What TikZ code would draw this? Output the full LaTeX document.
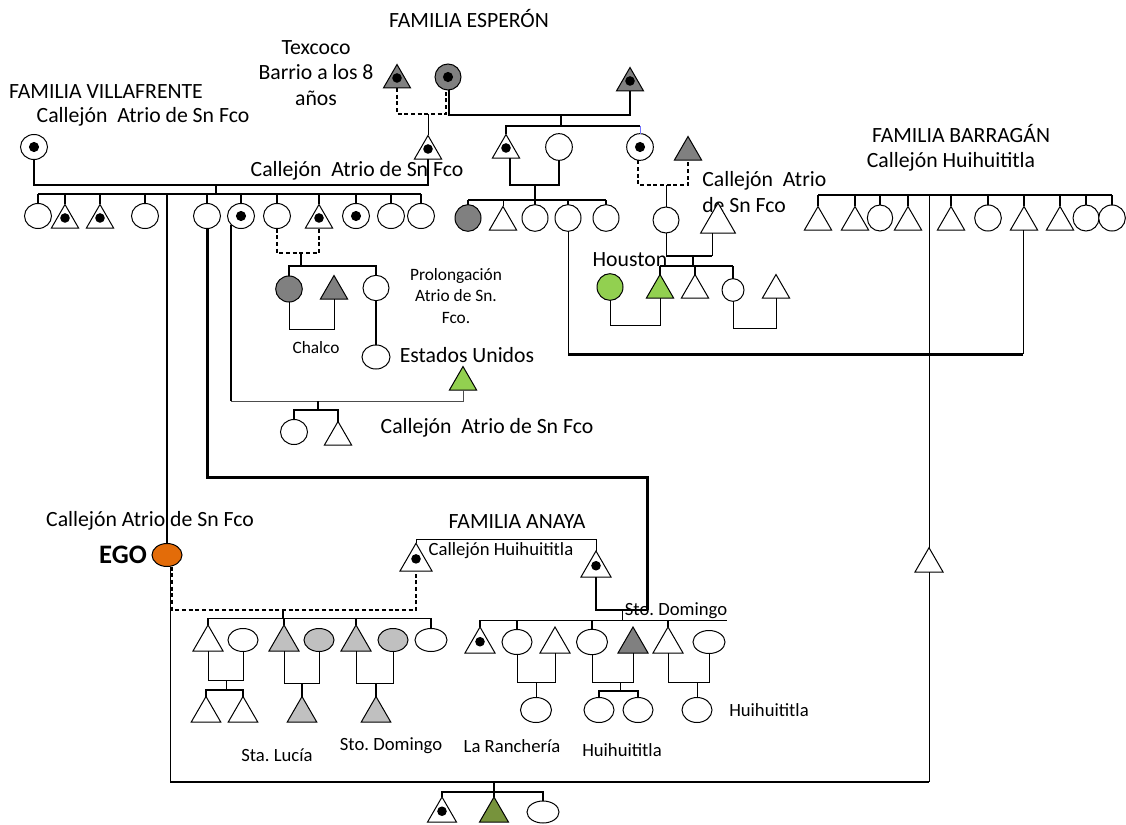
\documentclass[tikz,border=0pt]{standalone}
\usepackage{fontspec}
\setmainfont{Carlito}
\usetikzlibrary{shapes.geometric}
\definecolor{dgrey}{HTML}{808080}
\definecolor{lgrey}{HTML}{C0C0C0}
\definecolor{lgreen}{HTML}{92D050}
\definecolor{oliveg}{HTML}{77933C}
\definecolor{egoor}{HTML}{E36C09}
\frenchspacing
\tikzset{
  sh/.style={draw=black, line width=0.75pt, fill=white, inner sep=0pt, outer sep=0pt},
  ell/.style 2 args={sh, ellipse, minimum width=#1, minimum height=#2},
  cir/.style={sh, ellipse, minimum width=20.25pt, minimum height=18.75pt},
  tri/.style={sh, regular polygon, regular polygon sides=3, minimum size=#1},
  tri/.default=23.5pt,
  dotc/.style={path picture={\fill[black] (path picture bounding box.center) circle (3.8pt);}},
  dott/.style={path picture={\fill[black] ([yshift=-1.3pt]path picture bounding box.center) circle (3.6pt);}},
  lab/.style={font=\fontsize{16.3}{19.2}\selectfont, inner sep=0pt},
  mlab/.style={font=\fontsize{14}{16}\selectfont, inner sep=0pt},
  slab/.style={font=\fontsize{13}{15.8}\selectfont, inner sep=0pt},
  l1/.style={line width=0.75pt},
  l13/.style={line width=1pt},
  l15/.style={line width=1.15pt},
  l2/.style={line width=1.5pt},
  l3/.style={line width=2.25pt},
  dsh/.style={line width=0.9pt, dash pattern=on 3pt off 2pt},
}
\begin{document}
\begin{tikzpicture}[x=0.75pt, y=-0.75pt]
\useasboundingbox (0,0) rectangle (1126,824);

% level coordinates
\foreach \v in {114,115,126,185,194,195,200,253,256,266,325,328,329,354,401,410,477,539,610,618,620,680,682,683,690,691,782,792}
  {\coordinate (L\v) at (0,\v);}

% ---------------- texts
\node[lab] (tEsp) at (469,19) {FAMILIA ESPERÓN};
\node[lab, align=center] (tTex) at (316,73) {Texcoco\\Barrio a los 8\\años};
\node[lab] (tVil) at (106,92) {FAMILIA VILLAFRENTE};
\node[lab] (tVilC) at (143,117) {Callejón\ \ Atrio de Sn Fco};
\node[lab] (tMid) at (357,171) {Callejón\ \ Atrio de Sn Fco};
\node[lab, align=left, anchor=west] (tHouC) at (702,192) {Callejón\ \ Atrio\\de Sn Fco};
\node[lab] (tBarr) at (961,133) {FAMILIA BARRAGÁN};
\node[lab] (tBarrC) at (951,162) {Callejón Huihuititla};
\node[lab] (tHou) at (630,260) {Houston};
\node[slab, align=center] (tProl) at (456,296) {Prolongación\\Atrio de Sn.\\Fco.};
\node[slab] (tChal) at (316,348) {Chalco};
\node[lab] (tEU) at (467,355) {Estados Unidos};
\node[lab] (tCall2) at (487,428) {Callejón\ \ Atrio de Sn Fco};
\node[lab] (tEgoC) at (150,521) {Callejón Atrio de Sn Fco};
\node[font=\bfseries\fontsize{20}{24}\selectfont, inner sep=0pt] (tEGO) at (123,555) {EGO};
\node[lab] (tAnaya) at (517,522) {FAMILIA ANAYA};
\node[mlab] (tAnC) at (501,551) {Callejón Huihuititla};
\node[mlab] (tSto) at (676,611) {Sto. Domingo};
\node[mlab] (tLucia) at (277,755) {Sta. Lucía};
\node[mlab] (tSto2) at (391,746) {Sto. Domingo};
\node[mlab] (tRanch) at (512,746) {La Ranchería};
\node[mlab] (tHui1) at (622,750) {Huihuititla};
\node[mlab] (tHui2) at (769,710) {Huihuititla};

% ---------------- Villafrente
\node[cir, dotc] (vA) at (34,147) {};
\node[cir] (v1) at (38,216) {};
\node[tri, dott, anchor=south] (v2) at (65,228) {};
\node[tri, dott, anchor=south] (v3) at (100,228) {};
\node[cir] (v4) at (145,216) {};
\node[cir] (v5) at (207,216) {};
\node[cir, dotc] (v6) at (241,216) {};
\node[cir] (v7) at (277,216) {};
\node[tri, dott, anchor=south] (v8) at (319,228) {};
\node[cir, dotc] (v9) at (356,216) {};
\node[cir] (v10) at (391,216) {};
\node[cir] (v11) at (421,216) {};

% ---------------- Esperon
\node[tri, dott, fill=dgrey, anchor=south] (eA) at (397,88) {};
\node[ell={19.5pt}{19.5pt}, fill=dgrey, dotc] (eB) at (448,77) {};
\node[tri, dott, fill=dgrey, anchor=south] (eC) at (630,91) {};
\node[tri, dott, anchor=south] (eS) at (428,159) {};
\node[tri, dott, anchor=south] (e1) at (506,158) {};
\node[ell={20pt}{20pt}] (e2) at (559,147) {};
\node[ell={20pt}{20pt}, dotc] (e3) at (640,147) {};
\node[tri, fill=dgrey, anchor=south] (e4) at (688,160) {};

\node[ell={19.5pt}{20pt}, fill=dgrey] (g1) at (468,218) {};
\node[tri, anchor=south] (g2) at (503,230) {};
\node[ell={19.5pt}{20pt}] (g3) at (535,218) {};
\node[ell={19.5pt}{20pt}] (g4) at (568,218) {};
\node[ell={19.5pt}{20pt}] (g5) at (606,218) {};
\node[ell={19.5pt}{19.5pt}] (h0) at (666,220) {};
\node[tri=30pt, anchor=south] (hT) at (718,233) {};

\node[ell={19.5pt}{20pt}, fill=lgreen] (hc) at (610,287) {};
\node[tri, fill=lgreen, anchor=south] (ht) at (660,298) {};
\node[tri, anchor=south] (hw) at (695,298) {};
\node[ell={16.5pt}{17pt}] (hq) at (733,290) {};
\node[tri, anchor=south] (hr) at (776,298) {};

% ---------------- Chalco / Estados Unidos
\node[ell={20pt}{19.5pt}, fill=dgrey] (c1) at (289,289) {};
\node[tri, fill=dgrey, anchor=south] (c2) at (334,299) {};
\node[ell={19.5pt}{19pt}] (c3) at (376,288) {};
\node[ell={21pt}{18pt}] (c4) at (376,357) {};
\node[tri, fill=lgreen, anchor=south] (us) at (463,390) {};
\node[cir] (k1) at (294,432) {};
\node[tri, anchor=south] (k2) at (338,445) {};

% ---------------- Barragan
\node[tri, anchor=south] (b1) at (818,230) {};
\node[tri, anchor=south] (b2) at (855,230) {};
\node[ell={19pt}{19.5pt}] (b3) at (880,218) {};
\node[tri, anchor=south] (b4) at (908,230) {};
\node[tri, anchor=south] (b5) at (951,230) {};
\node[ell={20pt}{19.5pt}] (b6) at (988,218) {};
\node[tri, anchor=south] (b7) at (1024,230) {};
\node[tri, anchor=south] (b8) at (1060,230) {};
\node[ell={19.5pt}{19.5pt}] (b9) at (1086,218) {};
\node[ell={20pt}{19.5pt}] (b10) at (1112,218) {};
\node[tri=24.3pt, anchor=south] (bR) at (929,572) {};

% ---------------- EGO and Anaya
\node[ell={22.5pt}{17.25pt}, fill=egoor] (ego) at (167,555) {};
\node[tri=27.7pt, dott, anchor=south] (aL) at (416,571) {};
\node[tri=26pt, dott, anchor=south] (aR) at (596,577) {};

\node[tri=26pt, anchor=south] (x1) at (208,651) {};
\node[ell={22.5pt}{17.25pt}] (x2) at (243,640) {};
\node[tri=26pt, fill=lgrey, anchor=south] (x3) at (284,651) {};
\node[ell={22.5pt}{17.25pt}, fill=lgrey] (x4) at (319,640) {};
\node[tri=26pt, fill=lgrey, anchor=south] (x5) at (356,651) {};
\node[ell={22.5pt}{17.25pt}, fill=lgrey] (x6) at (393,640) {};
\node[ell={24pt}{17.25pt}] (x7) at (431,640) {};

\node[tri=26pt, dott, anchor=south] (n1) at (480,653) {};
\node[ell={22.5pt}{18.75pt}] (n2) at (517,642) {};
\node[tri=26pt, anchor=south] (n3) at (555,653) {};
\node[ell={23.25pt}{19pt}] (n4) at (592,642) {};
\node[tri=26pt, fill=dgrey, anchor=south] (n5) at (633,653) {};
\node[tri=26pt, anchor=south] (n6) at (668,653) {};
\node[ell={24pt}{17.25pt}] (n7) at (709,642) {};

\node[tri=25.5pt, anchor=south] (y1) at (206,722) {};
\node[tri=25.5pt, anchor=south] (y2) at (243,722) {};
\node[tri=25.5pt, fill=lgrey, anchor=south] (y3) at (302,722) {};
\node[tri=25.5pt, fill=lgrey, anchor=south] (y4) at (376,722) {};
\node[ell={23.25pt}{18.75pt}] (z1) at (536,710) {};
\node[ell={22.5pt}{18.75pt}] (z2) at (599,710) {};
\node[ell={22.5pt}{18.75pt}] (z3) at (638,710) {};
\node[ell={22.5pt}{18.75pt}] (z4) at (697,710) {};

\node[tri=25pt, dott, anchor=south] (f1) at (442,822) {};
\node[tri=25pt, fill=oliveg, anchor=south] (f2) at (494,822) {};
\node[ell={24pt}{16.5pt}] (f3) at (543,812) {};

% ================= connectors
% Villafrente
\draw[l2] (vA.south) -- (vA.south |- L185) -- (eS.south |- L185) -- (eS.south);
\coordinate (jV) at (216,185);
\draw[l2] (jV) -- (jV |- L194);
\draw[l13] (v1.north |- L194) -- (v11.north |- L194);
\foreach \n in {v1,v2,v3,v4,v5,v6,v7,v8,v9,v10,v11}
  {\draw[l15] (\n.north) -- (\n.north |- L194);}
\draw[l2] (ego.north) -- (ego.north |- L194);
% v5 to Anaya
\coordinate (aJ) at (647,610);
\draw[l3] (v5.south) -- (v5.south |- L477) -| (aJ);
\draw[l2] (aR.south) |- (aJ);
% v6 and Estados Unidos
\draw[l2] (v6.south west) -- (v6.south west |- L401);
\draw[l1, black!70] (v6.south west |- L401) -- (us.south |- L401) -- (us.south);
\coordinate (mK) at (318,401);
\draw[l15] (mK) -- (mK |- L410);
\draw[l15] (k1.north) |- (k2.north |- L410) -- (k2.north);
% v7 and v8
\draw[dsh] (v7.south) -- (v7.south |- L253) -| (v8.south);
\coordinate (mC) at (301,253);
\draw[l15] (mC) -- (mC |- L266);
\draw[l15] (c1.north) |- (c3.north |- L266) -- (c3.north);
\draw[l1] (c1.south) |- (c2.south |- L329) -- (c2.south);
\draw[l15] (c3.south) -- (c4.north);

% Esperon
\draw[dsh] (eA.south) -- (eA.south |- L114) -| ([xshift=-1.5pt]eB.south);
\draw[l2] ([xshift=1pt]eB.south) |- (eC.south |- L115) -- (eC.south);
\draw[l1] (eS.north |- L114) -- (eS.north);
\coordinate (mE) at (561,115);
\draw[l2] (mE) -- (mE |- L126);
\draw[l15] (e1.north) |- (e3.north |- L126);
\draw[l1, blue!55] (e3.north |- L126) -- (e3.north);
\draw[l15] ([xshift=3pt]e1.south) |- (e2.south |- L185) -- (e2.south);
\coordinate (mG) at (535,185);
\draw[l2] (mG) -- (mG |- L200);
\draw[l15] (g1.north |- L200) -- (g5.north |- L200);
\foreach \n in {g1,g3,g4,g5} {\draw[l15] (\n.north) -- (\n.north |- L200);}
\draw[l1] (g2.north) -- (g2.north |- L200);
\draw[l1] (g4.south) -- (g4.south |- L354);
\draw[l3] (g4.south |- L354) -- ([xshift=-0.75pt]b7.south |- L354);
\draw[l1] ([xshift=-0.75pt]b7.south) -- ([xshift=-0.75pt]b7.south |- L354);
% e3 and e4
\draw[dsh] ([xshift=-1.5pt]e3.south) -- ([xshift=-1.5pt]e3.south |- L185) -| (e4.south);
\draw[l1] (h0.north |- L185) -- (h0.north);
\draw[l1] (h0.south) -- (h0.south |- L256);
\draw[l1] ([xshift=-4.5pt]hT.south) -- ([xshift=-4.5pt]hT.south |- L256);
\draw[l2] (h0.south |- L256) -- ([xshift=-4.5pt]hT.south |- L256);
\coordinate (mH) at (693,256);
\draw[l2] (mH) -- (mH |- L266);
\draw[l2] (ht.north |- L266) -- (hq.north |- L266);
\foreach \n in {ht,hw,hq} {\draw[l2] (\n.north) -- (\n.north |- L266);}
\draw[l1] (hc.south) |- (ht.south |- L325) -- (ht.south);
\draw[l1] (hq.south) |- (hr.south |- L328) -- (hr.south);

% Barragan
\draw[l15] (b1.north |- L195) -- (b10.north |- L195);
\foreach \n in {b1,b2,b3,b4,b5,b6,b7,b8,b9,b10} {\draw[l15] (\n.north) -- (\n.north |- L195);}
\coordinate (bJ) at (929,195);
\draw[l1] (bJ) -- (bR.north);

% bottom line EGO - Barragan
\draw[l1] ([xshift=2.25pt]ego.south) -- ([xshift=2.25pt]ego.south |- L782);
\draw[l1] (bR.south) -- (bR.south |- L782);
\draw[l15] ([xshift=2.25pt]ego.south |- L782) -- (bR.south |- L782);
\coordinate (mB) at (494,782);
\draw[l15] (mB) -- (mB |- L792);
\draw[l15] (f1.north) |- (f3.north |- L792) -- (f3.north);
\draw[l15] (f2.north) -- (f2.north |- L792);

% EGO and Anaya (dashed)
\draw[dsh] ([xshift=3.75pt]ego.south) |- (aL.south |- L610) -- (aL.south);
\coordinate (mX) at (283,610);
\draw[l15] (mX) -- (mX |- L618);
\draw[l1] (x1.north |- L618) -- (x7.north |- L618);
\foreach \n in {x1,x3,x5,x7} {\draw[l15] (\n.north) -- (\n.north |- L618);}
% Anaya parents
\draw[l1] (aL.north) |- (aR.north |- L539) -- (aR.north);
\coordinate (aT) at (622,610);
\draw[l1] (aT) -- (aT |- L620);
\coordinate (sE) at (727,620);
\draw[l1] (n1.north |- L620) -- (sE);
\foreach \n in {n1,n2,n4,n6} {\draw[l15] (\n.north) -- (\n.north |- L620);}

% EGO-side grandchildren
\draw[l1] (x1.south) |- (x2.south |- L680) -- (x2.south);
\coordinate (m12) at (226,680);
\draw[l1] (m12) -- (m12 |- L690);
\draw[l15] (y1.north) |- (y2.north |- L690) -- (y2.north);
\draw[l1] (x3.south) |- (x4.south |- L683) -- (x4.south);
\draw[l15] (y3.north |- L683) -- (y3.north);
\draw[l1] (x5.south) |- (x6.south |- L683) -- (x6.south);
\draw[l15] (y4.north |- L683) -- (y4.north);

% Anaya grandchildren
\draw[l1] (n2.south) |- (n3.south |- L682) -- (n3.south);
\draw[l1] (z1.north) -- (z1.north |- L682);
\draw[l1] (n4.south) |- (n5.south |- L682) -- (n5.south);
\coordinate (mZ) at (620,682);
\draw[l1] (mZ) -- (mZ |- L691);
\draw[l15] (z2.north) |- (z3.north |- L691) -- (z3.north);
\draw[l1] (n6.south) |- (n7.south |- L682) -- (n7.south);
\draw[l1] (z4.north) -- (z4.north |- L682);
\end{tikzpicture}
\end{document}
